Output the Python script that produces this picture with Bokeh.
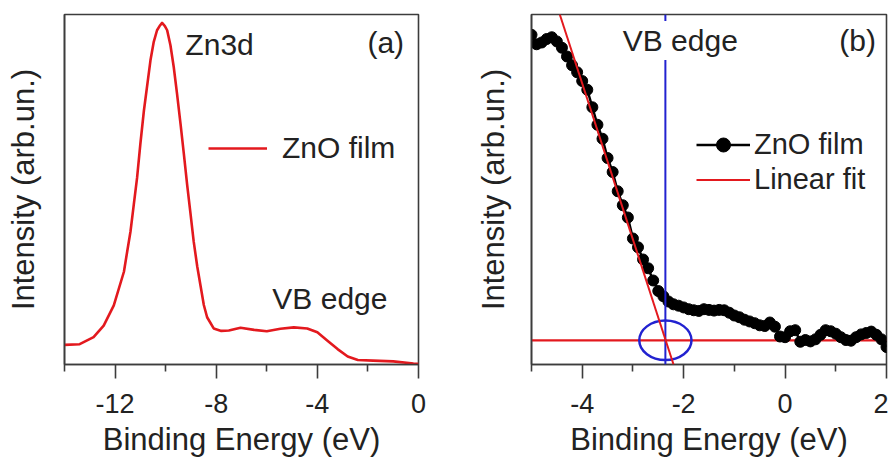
from bokeh.plotting import figure
from bokeh.models import Range1d, FixedTicker, Label, Legend, LegendItem, Span, Slope
from bokeh.layouts import row
from bokeh.embed import file_html
from bokeh.resources import INLINE

# ---------------- data ----------------
# Panel (a): full valence band spectrum
energy_a = [-14.0, -13.4, -12.85, -12.45, -12.05, -11.65, -11.52, -11.39, -11.26,
            -11.13, -11.0, -10.86, -10.6, -10.47, -10.34, -10.24, -10.14, -10.03,
            -9.94, -9.81, -9.68, -9.55, -9.41, -9.28, -9.15, -9.02, -8.89, -8.75,
            -8.62, -8.49, -8.36, -8.1, -7.8, -7.5, -7.04, -6.5, -6.0, -5.46, -4.93,
            -4.4, -4.0, -3.6, -3.2, -2.8, -2.4, -1.8, -1.0, -0.2, 0.0]
intensity_a = [5.6, 5.8, 7.8, 11.1, 16.9, 26.5, 32.3, 38.0, 45.7,
               53.3, 63.0, 72.5, 86.9, 92.2, 95.5, 96.7, 97.6, 96.7,
               95.5, 91.2, 85.0, 77.4, 68.7, 60.2, 51.4, 43.3, 35.1, 28.0,
               22.5, 17.0, 13.5, 10.3, 9.6, 9.7, 10.5, 9.9, 9.5, 10.2, 10.6,
               10.3, 9.2, 6.8, 4.4, 2.3, 1.3, 1.1, 0.9, 0.3, 0.2]

# Panel (b): VB edge region
energy_b = [-5.0, -4.9, -4.8, -4.7, -4.6, -4.5, -4.4, -4.3, -4.2, -4.1,
            -4.0, -3.9, -3.8, -3.7, -3.6, -3.5, -3.4, -3.3, -3.2, -3.1,
            -3.0, -2.9, -2.8, -2.7, -2.6, -2.5, -2.4, -2.3, -2.2, -2.1,
            -2.0, -1.9, -1.8, -1.7, -1.6, -1.5, -1.4, -1.3, -1.2, -1.1,
            -1.0, -0.9, -0.8, -0.7, -0.6, -0.5, -0.4, -0.3, -0.2, -0.1,
            0.0, 0.1, 0.2, 0.3, 0.4, 0.5, 0.6, 0.7, 0.8, 0.9,
            1.0, 1.1, 1.2, 1.3, 1.4, 1.5, 1.6, 1.7, 1.8, 1.9, 2.0]
intensity_b = [94.2, 91.5, 92.0, 93.0, 93.5, 92.3, 90.5, 88.0, 85.5, 83.5,
               81.0, 78.5, 73.5, 68.5, 64.5, 59.0, 55.0, 49.5, 45.5, 42.0,
               36.0, 33.5, 30.0, 27.5, 24.0, 21.0, 19.5, 18.0, 17.2, 16.8,
               16.3, 15.8, 15.5, 15.3, 15.8, 15.6, 15.4, 15.6, 15.5, 14.8,
               14.0, 13.5, 12.8, 12.3, 11.8, 11.2, 11.0, 12.0, 10.8, 8.0,
               7.8, 9.5, 9.8, 6.5, 7.0, 6.6, 7.2, 8.5, 9.8, 9.5,
               8.8, 7.8, 7.0, 6.8, 7.8, 8.6, 9.0, 9.4, 8.5, 7.2, 5.0]

# linear fit and background level
fit_gradient = -44.6
fit_intercept = -98.1
background_x = [-5.0, 2.0]
background_y = [6.9, 6.9]
vb_edge = -2.36
circle_w = 1.03
circle_h = 11.3

ticks_a = [-12, -8, -4, 0]
minor_a = [-14, -10, -6, -2]
tick_labels_a = ["-12", "-8", "-4", "0"]
ticks_b = [-4, -2, 0, 2]
minor_b = [-5, -3, -1, 1]
tick_labels_b = ["-4", "-2", "0", "2"]

FONT = "Liberation Sans"
TXT = "#222222"
RED = "#e3191e"
BLUE = "#2222d0"
FRAME = "#3c3c3c"


def style(p, major, minor, labels, ylab_standoff):
    p.grid.visible = False
    p.outline_line_color = FRAME
    p.outline_line_width = 1.6
    p.background_fill_color = "white"
    p.border_fill_color = "white"
    xa = p.xaxis[0]
    xa.ticker = FixedTicker(ticks=major, minor_ticks=minor)
    xa.major_label_overrides = {t: l for t, l in zip(major, labels)}
    xa.axis_label = "Binding Energy (eV)"
    xa.axis_line_color = FRAME
    xa.axis_line_width = 1.6
    xa.major_tick_line_color = FRAME
    xa.major_tick_line_width = 1.6
    xa.minor_tick_line_color = FRAME
    xa.minor_tick_line_width = 1.6
    xa.major_tick_in = 0
    xa.major_tick_out = 14
    xa.minor_tick_in = 0
    xa.minor_tick_out = 7
    xa.major_label_standoff = 15
    xa.major_label_text_font = FONT
    xa.major_label_text_font_size = "27px"
    xa.major_label_text_color = TXT
    xa.axis_label_standoff = 6
    xa.axis_label_text_font = FONT
    xa.axis_label_text_font_size = "31px"
    xa.axis_label_text_font_style = "normal"
    xa.axis_label_text_color = TXT

    ya = p.yaxis[0]
    ya.ticker = FixedTicker(ticks=[])
    ya.axis_label = "Intensity (arb.un.)"
    ya.axis_line_color = FRAME
    ya.axis_line_width = 1.6
    ya.major_tick_in = 0
    ya.major_tick_out = 0
    ya.minor_tick_in = 0
    ya.minor_tick_out = 0
    ya.major_label_standoff = 0
    ya.axis_label_standoff = ylab_standoff
    ya.axis_label_text_font = FONT
    ya.axis_label_text_font_size = "31px"
    ya.axis_label_text_font_style = "normal"
    ya.axis_label_text_color = TXT


def label(p, x, y, text, size="30px", bg=None):
    kw = dict(x=x, y=y, text=text, text_font=FONT, text_font_size=size,
              text_color=TXT, text_baseline="middle", text_align="left")
    if bg is not None:
        kw.update(background_fill_color=bg, padding=3)
    p.add_layout(Label(**kw))


# ---------------- panel (a) ----------------
pa = figure(width=470, height=461, x_range=Range1d(-14, 0), y_range=Range1d(0, 100),
            output_backend="svg", toolbar_location=None,
            min_border_left=64, min_border_right=52, min_border_top=14, min_border_bottom=97)
style(pa, ticks_a, minor_a, tick_labels_a, 24)
ra = pa.line(energy_a, intensity_a, line_color=RED, line_width=2.6, line_join="round")
label(pa, -9.22, 91.4, "Zn3d")
label(pa, -2.02, 91.9, "(a)")
label(pa, -5.78, 18.8, "VB edge")
leg_a = Legend(items=[LegendItem(label="ZnO film", renderers=[ra])],
               location=(144, 199), padding=0, margin=0, spacing=0,
               glyph_width=59, glyph_height=34, label_height=34, label_standoff=15,
               border_line_color=None, background_fill_alpha=0,
               label_text_font=FONT, label_text_font_size="30px", label_text_color=TXT)
pa.add_layout(leg_a)

# ---------------- panel (b) ----------------
pb = figure(width=418, height=461, x_range=Range1d(-5, 2), y_range=Range1d(0, 100),
            output_backend="svg", toolbar_location=None,
            min_border_left=61, min_border_right=2, min_border_top=8, min_border_bottom=93)
style(pb, ticks_b, minor_b, tick_labels_b, 21)

pb.add_layout(Span(location=vb_edge, dimension="height", line_color=BLUE, line_width=2))
pb.add_layout(Slope(gradient=fit_gradient, y_intercept=fit_intercept, line_color=RED, line_width=2))
rfit = pb.line(background_x, background_y, line_color=RED, line_width=2.2)
pb.ellipse(x=[vb_edge], y=[background_y[0]], width=circle_w, height=circle_h,
           fill_color=None, line_color=BLUE, line_width=2.5)
rl = pb.line(energy_b, intensity_b, line_color="black", line_width=2.5)
rs = pb.scatter(energy_b, intensity_b, size=11, fill_color="black", line_color="black")

label(pb, -3.26, 92.6, "VB edge", bg="white")
label(pb, 1.07, 92.6, "(b)")

leg_b = Legend(items=[LegendItem(label="ZnO film", renderers=[rl, rs]),
                      LegendItem(label="Linear fit", renderers=[rfit])],
               location=(165, 167), padding=0, margin=0, spacing=-3,
               glyph_width=54, glyph_height=35, label_height=32, label_standoff=4,
               border_line_color=None, background_fill_alpha=0,
               label_text_font=FONT, label_text_font_size="29px", label_text_color=TXT)
pb.add_layout(leg_b)

p = row(pa, pb, spacing=0)

open("out.html", "w").write(file_html(p, INLINE))
